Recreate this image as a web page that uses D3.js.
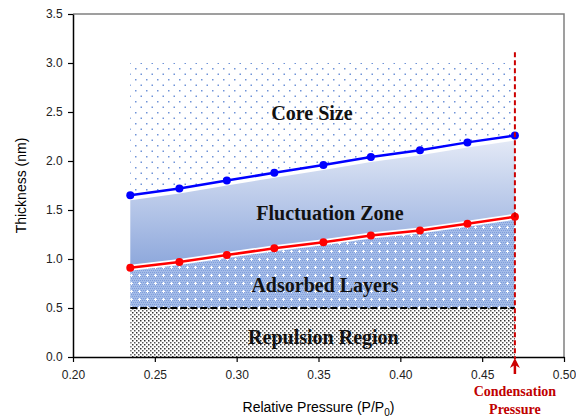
<!DOCTYPE html>
<html>
<head>
<meta charset="utf-8">
<script src="https://cdn.jsdelivr.net/npm/d3@7"></script>
<style>
  html, body { margin: 0; padding: 0; background: #fff; }
  svg { display: block; }
  .tick text { font-family: Arial, "Liberation Sans", sans-serif; font-size: 12px; fill: #222; }
  .region { font-family: "Times New Roman", "Liberation Serif", serif; font-weight: bold; font-size: 20px; fill: #111; }
</style>
</head>
<body>
<div id="chart"></div>
<script>
// values
const pressure = [0.235, 0.265, 0.294, 0.323, 0.353, 0.382, 0.412, 0.441, 0.470];
const coreLimit = [1.65, 1.72, 1.80, 1.88, 1.96, 2.04, 2.11, 2.19, 2.26];
const adsorbed = [0.91, 0.97, 1.04, 1.11, 1.17, 1.24, 1.29, 1.36, 1.43];
const repulsionTop = 0.5;
const coreTop = 3.0;
const condensation = 0.47;
const xTicks = [0.20, 0.25, 0.30, 0.35, 0.40, 0.45, 0.50];
const yTicks = [0, 0.5, 1.0, 1.5, 2.0, 2.5, 3.0, 3.5];

const W = 576, H = 418;
const m = { left: 73, right: 12, top: 14, bottom: 61 };

const svg = d3.select("#chart").append("svg").attr("width", W).attr("height", H);
const x = d3.scaleLinear().domain([0.2, 0.5]).range([m.left, W - m.right]);
const y = d3.scaleLinear().domain([0, 3.5]).range([H - m.bottom, m.top]);

const defs = svg.append("defs");

// core size: sparse staggered blue dots
const pCore = defs.append("pattern").attr("id", "pCore").attr("patternUnits", "userSpaceOnUse")
  .attr("width", 11).attr("height", 11);
pCore.append("rect").attr("x", 3).attr("y", 2).attr("width", 1.5).attr("height", 1.5).attr("fill", "#6f93d8");
pCore.append("rect").attr("x", 8.5).attr("y", 7.5).attr("width", 1.5).attr("height", 1.5).attr("fill", "#6f93d8");

// adsorbed layers: blue fine check with white crosses
const pAds = defs.append("pattern").attr("id", "pAds").attr("patternUnits", "userSpaceOnUse")
  .attr("width", 8).attr("height", 8);
pAds.append("rect").attr("width", 8).attr("height", 8).attr("fill", "#a4bce8");
for (let i = 0; i < 8; i += 2) for (let j = 0; j < 8; j += 2) {
  pAds.append("rect").attr("x", i + ((j / 2) % 2)).attr("y", j).attr("width", 1).attr("height", 1).attr("fill", "#7f9ddb");
}
pAds.append("rect").attr("x", 3).attr("y", 2).attr("width", 1).attr("height", 3).attr("fill", "#fff");
pAds.append("rect").attr("x", 2).attr("y", 3).attr("width", 3).attr("height", 1).attr("fill", "#fff");

// repulsion region: black dots
const pRep = defs.append("pattern").attr("id", "pRep").attr("patternUnits", "userSpaceOnUse")
  .attr("width", 4).attr("height", 4);
pRep.append("rect").attr("width", 4).attr("height", 4).attr("fill", "#fff");
pRep.append("rect").attr("x", 0).attr("y", 0).attr("width", 1.5).attr("height", 1.5).attr("fill", "#333");
pRep.append("rect").attr("x", 2).attr("y", 2).attr("width", 1.5).attr("height", 1.5).attr("fill", "#555");

const grad = defs.append("linearGradient").attr("id", "gFluc")
  .attr("x1", 0).attr("y1", 0).attr("x2", 0).attr("y2", 1);
grad.append("stop").attr("offset", "0%").attr("stop-color", "#e3e9f6");
grad.append("stop").attr("offset", "100%").attr("stop-color", "#8ea8dc");

const pts = pressure.map((p, i) => ({ p, core: coreLimit[i], ads: adsorbed[i] }));
const x0 = pressure[0], x1 = pressure[pressure.length - 1];

// core size region
svg.append("path")
  .datum(pts)
  .attr("fill", "url(#pCore)")
  .attr("d", d3.area().x(d => x(d.p)).y0(d => y(d.core)).y1(() => y(coreTop)));

// fluctuation zone
svg.append("path")
  .datum(pts)
  .attr("fill", "url(#gFluc)")
  .attr("d", d3.area().x(d => x(d.p)).y0(d => y(d.ads) - 3).y1(d => y(d.core) + 5));

// adsorbed layers
svg.append("path")
  .datum(pts)
  .attr("fill", "url(#pAds)")
  .attr("d", d3.area().x(d => x(d.p)).y0(() => y(repulsionTop)).y1(d => y(d.ads) + 3));

// repulsion region
svg.append("rect")
  .attr("x", x(x0)).attr("y", y(repulsionTop))
  .attr("width", x(x1) - x(x0)).attr("height", y(0) - y(repulsionTop))
  .attr("fill", "url(#pRep)");

svg.append("line")
  .attr("x1", x(x0)).attr("x2", x(x1))
  .attr("y1", y(repulsionTop)).attr("y2", y(repulsionTop))
  .attr("stroke", "#000").attr("stroke-width", 2).attr("stroke-dasharray", "7,3");

// frame (top/right grey)
svg.append("path")
  .attr("d", `M${x(0.2)},${y(3.5)}H${x(0.5)}V${y(0)}`)
  .attr("fill", "none").attr("stroke", "#808080").attr("stroke-width", 1.5);

// axes
const gx = svg.append("g").attr("transform", `translate(0,${y(0)})`)
  .call(d3.axisBottom(x).tickValues(xTicks).tickFormat(d3.format(".2f")).tickSize(5).tickSizeOuter(0));
const gy = svg.append("g").attr("transform", `translate(${x(0.2)},0)`)
  .call(d3.axisLeft(y).tickValues(yTicks).tickFormat(d3.format(".1f")).tickSize(5).tickSizeOuter(0));
[gx, gy].forEach(g => {
  g.select(".domain").attr("stroke", "#000").attr("stroke-width", 1.5);
  g.selectAll(".tick line").attr("stroke", "#000").attr("stroke-width", 1.2);
});
gx.selectAll(".tick text").attr("dy", "1.2em");
gy.selectAll(".tick text").attr("dx", "-0.2em");

// lines with markers
const series = [
  { key: "core", color: "#0000ff" },
  { key: "ads", color: "#ff0000" }
];
series.forEach(s => {
  svg.append("path").datum(pts)
    .attr("fill", "none").attr("stroke", s.color).attr("stroke-width", 2.5)
    .attr("d", d3.line().x(d => x(d.p)).y(d => y(d[s.key])));
  svg.selectAll(null).data(pts).enter().append("circle")
    .attr("cx", d => x(d.p)).attr("cy", d => y(d[s.key]))
    .attr("r", 4).attr("fill", s.color);
});

// condensation line
svg.append("line")
  .attr("x1", x(condensation)).attr("x2", x(condensation))
  .attr("y1", y(3.11)).attr("y2", y(0) + 2)
  .attr("stroke", "#cc0000").attr("stroke-width", 2).attr("stroke-dasharray", "5,3");
const ax = x(condensation), ay = y(0) + 1;
svg.append("line").attr("x1", ax).attr("x2", ax).attr("y1", ay + 4).attr("y2", ay + 16)
  .attr("stroke", "#cc0000").attr("stroke-width", 2.5);
svg.append("path")
  .attr("d", `M${ax},${ay} L${ax - 5},${ay + 10} L${ax},${ay + 7} L${ax + 5},${ay + 10} Z`)
  .attr("fill", "#cc0000");
const cond = svg.append("text")
  .attr("class", "region").attr("text-anchor", "middle")
  .style("font-size", "14px").style("fill", "#c00000");
cond.append("tspan").attr("x", ax).attr("y", 396).text("Condensation");
cond.append("tspan").attr("x", ax).attr("y", 414).text("Pressure");

// region labels
const labels = [
  { t: "Core Size", cx: 0.346, cy: 2.49 },
  { t: "Fluctuation Zone", cx: 0.357, cy: 1.47 },
  { t: "Adsorbed Layers", cx: 0.354, cy: 0.735 },
  { t: "Repulsion Region", cx: 0.353, cy: 0.204 }
];
svg.selectAll(null).data(labels).enter().append("text")
  .attr("class", "region").attr("text-anchor", "middle")
  .attr("x", d => x(d.cx)).attr("y", d => y(d.cy)).attr("dy", "0.35em")
  .text(d => d.t);

// axis titles
svg.append("text")
  .attr("transform", `translate(26,${(y(0) + y(3.5)) / 2}) rotate(-90)`)
  .attr("text-anchor", "middle")
  .style("font-family", "Arial, 'Liberation Sans', sans-serif").style("font-size", "14px")
  .text("Thickness (nm)");
const xt = svg.append("text")
  .attr("x", (x(0.2) + x(0.5)) / 2).attr("y", 412).attr("text-anchor", "middle")
  .style("font-family", "Arial, 'Liberation Sans', sans-serif").style("font-size", "14px");
xt.append("tspan").text("Relative Pressure (P/P");
xt.append("tspan").attr("dy", 4).style("font-size", "10px").text("0");
xt.append("tspan").attr("dy", -4).text(")");
</script>
</body>
</html>
